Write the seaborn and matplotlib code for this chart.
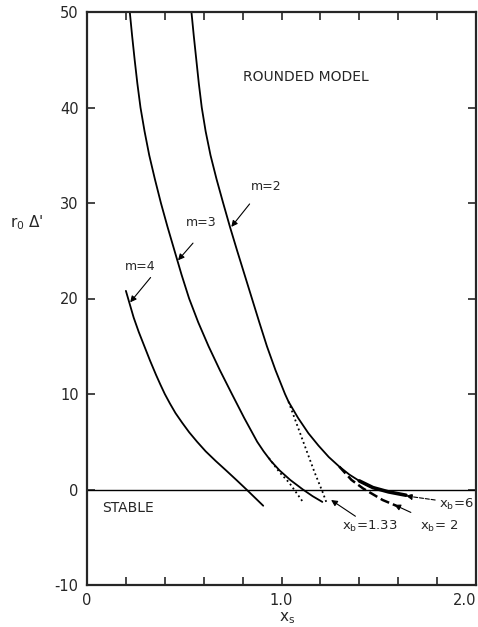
"""
Curvas de r0*Delta' frente a x_s para el modelo redondeado (m = 2, 3, 4).
"""
import numpy as np
import pandas as pd
import matplotlib
matplotlib.use('Agg')
import matplotlib.pyplot as plt
import seaborn as sns

# Curvas principales
m2_x = [0.537, 0.549, 0.562, 0.575, 0.59, 0.61, 0.635, 0.666, 0.70, 0.735,
        0.772, 0.81, 0.848, 0.886, 0.925, 0.969, 1.018, 1.036, 1.085, 1.138,
        1.19, 1.243, 1.297, 1.349, 1.40, 1.451, 1.503, 1.554, 1.605]
m2_y = [50, 47.5, 45, 42.5, 40, 37.5, 35, 32.5, 30, 27.5,
        25, 22.5, 20, 17.5, 15, 12.5, 10, 9.2, 7.5, 5.9,
        4.6, 3.4, 2.4, 1.56, 0.9, 0.33, 0.0, -0.26, -0.44]

m3_x = [0.22, 0.232, 0.245, 0.259, 0.275, 0.296, 0.32, 0.349, 0.38, 0.414,
        0.45, 0.486, 0.525, 0.572, 0.625, 0.683, 0.745, 0.808, 0.875, 0.908,
        0.945, 0.99, 1.045, 1.11, 1.16, 1.21]
m3_y = [50, 47.5, 45, 42.5, 40, 37.5, 35, 32.5, 30, 27.5,
        25, 22.5, 20, 17.5, 15, 12.5, 10, 7.5, 5, 4,
        3, 2, 1, 0.0, -0.7, -1.3]

m4_x = [0.20, 0.2185, 0.24, 0.266, 0.295, 0.324, 0.355, 0.377, 0.40, 0.4265,
        0.455, 0.489, 0.525, 0.566, 0.61, 0.661, 0.715, 0.768, 0.82, 0.863, 0.906]
m4_y = [20.8, 19.5, 18, 16.5, 15, 13.5, 12, 11, 10, 9,
        8, 7, 6, 5, 4, 3, 2, 1, 0.0, -0.85, -1.7]

# Ramas para distintos x_b
xb133_m2_x = [1.036, 1.11, 1.17, 1.21, 1.23]
xb133_m2_y = [9.2, 5.1, 1.8, -0.2, -1.3]
xb133_m3_x = [0.935, 0.99, 1.04, 1.11]
xb133_m3_y = [3.3, 1.8, 0.7, -1.3]
xb2_x = [1.297, 1.36, 1.42, 1.52, 1.59]
xb2_y = [2.4, 1.0, 0.1, -1.1, -1.7]
xb6_x = [1.40, 1.47, 1.55, 1.64]
xb6_y = [0.9, 0.2, -0.25, -0.6]

x_ticks = [0, 0.2, 0.4, 0.6, 0.8, 1.0, 1.2, 1.4, 1.6, 1.8, 2.0]
x_tick_labels = ['0', '', '', '', '', '1.0', '', '', '', '', '2.0']
y_ticks = [-10, 0, 10, 20, 30, 40, 50]
y_tick_labels = ['-10', '0', '10', '20', '30', '40', '50']

sns.set_style('ticks')
plt.rcParams['font.family'] = ['DejaVu Sans']
plt.rcParams['mathtext.default'] = 'regular'
plt.rcParams['axes.unicode_minus'] = False

fig = plt.figure(figsize=(4.78, 6.27), dpi=100)
ax = fig.add_axes([87 / 478, 1 - 585 / 627, 389 / 478, 573 / 627])

curvas = [
    (m2_x, m2_y, '-', 1.3),
    (m3_x, m3_y, '-', 1.3),
    (m4_x, m4_y, '-', 1.3),
    (xb133_m2_x, xb133_m2_y, ':', 1.3),
    (xb133_m3_x, xb133_m3_y, ':', 1.3),
    (xb2_x, xb2_y, '--', 1.8),
    (xb6_x, xb6_y, '-', 2.6),
]
for xs, ys, estilo, grosor in curvas:
    df = pd.DataFrame({'x': xs, 'y': ys})
    sns.lineplot(data=df, x='x', y='y', sort=False, estimator=None,
                 color='black', linestyle=estilo, linewidth=grosor, ax=ax)

ax.axhline(0, color='black', linewidth=1.0)

ax.set_xlim(0, 2.0)
ax.set_ylim(-10, 50)
ax.set_xticks(x_ticks)
ax.set_xticklabels(x_tick_labels)
ax.set_yticks(y_ticks)
ax.set_yticklabels(y_tick_labels)
ax.tick_params(direction='in', top=True, right=True, length=6, width=1.2,
               labelsize=10.5, pad=6)
# el ultimo rotulo queda pegado al borde
ax.get_xticklabels()[-1].set_horizontalalignment('right')
for lado in ax.spines.values():
    lado.set_linewidth(1.6)
ax.set_xlabel('')
ax.set_ylabel('')

# Textos
ax.text(0.80, 43.2, 'ROUNDED MODEL', fontsize=10, va='center', ha='left')
ax.text(0.077, -1.9, 'STABLE', fontsize=10, va='center', ha='left')

flecha = dict(arrowstyle='-|>', color='black', lw=0.8, mutation_scale=9,
              shrinkA=0, shrinkB=0)
ax.annotate('m=4', xy=(0.222, 19.6), xytext=(0.195, 23.3), fontsize=9,
            va='center', ha='left')
ax.annotate('', xy=(0.222, 19.6), xytext=(0.327, 22.2), arrowprops=flecha)
ax.annotate('m=3', xy=(0.468, 24.0), xytext=(0.51, 28.0), fontsize=9,
            va='center', ha='left')
ax.annotate('', xy=(0.468, 24.0), xytext=(0.545, 25.8), arrowprops=flecha)
ax.annotate('m=2', xy=(0.742, 27.5), xytext=(0.84, 31.7), fontsize=9,
            va='center', ha='left')
ax.annotate('', xy=(0.742, 27.5), xytext=(0.836, 29.9), arrowprops=flecha)

ax.text(1.81, -1.6, 'x$_b$=6', fontsize=9.5, va='center', ha='left')
ax.annotate('', xy=(1.64, -0.67), xytext=(1.79, -1.1),
            arrowprops=dict(flecha, linestyle='--'))
ax.text(1.71, -3.9, 'x$_b$= 2', fontsize=9.5, va='center', ha='left')
ax.annotate('', xy=(1.58, -1.6), xytext=(1.665, -2.4), arrowprops=flecha)
ax.text(1.31, -3.9, 'x$_b$=1.33', fontsize=9.5, va='center', ha='left')
ax.annotate('', xy=(1.255, -1.1), xytext=(1.38, -2.8), arrowprops=flecha)

# Etiquetas de ejes
fig.text(10 / 478, 1 - 223 / 627, "r$_0$ Δ'", fontsize=11, va='center', ha='left')
fig.text(287 / 478, 1 - 618 / 627, 'x$_s$', fontsize=11, va='center', ha='center')

fig.savefig('out.png', dpi=100)
